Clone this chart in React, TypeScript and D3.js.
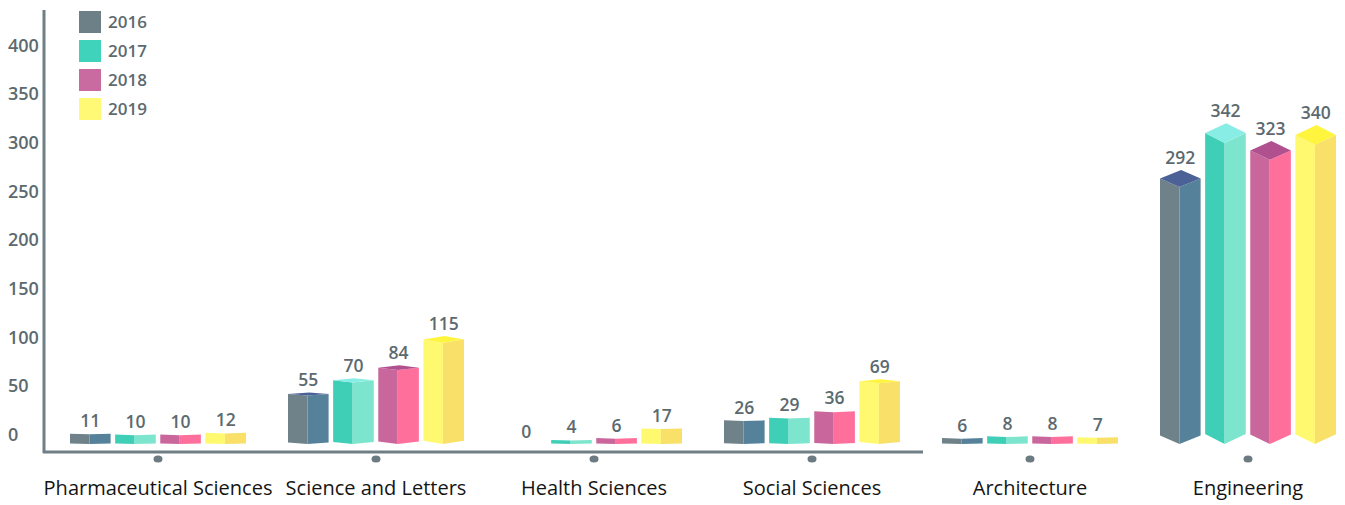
import React from "react";
import * as d3 from "d3";

// Enrolment by faculty and year
const categories = [
  "Pharmaceutical Sciences",
  "Science and Letters",
  "Health Sciences",
  "Social Sciences",
  "Architecture",
  "Engineering",
];
const years = ["2016", "2017", "2018", "2019"];
const values2016 = [11, 55, 0, 26, 6, 292];
const values2017 = [10, 70, 4, 29, 8, 342];
const values2018 = [10, 84, 6, 36, 8, 323];
const values2019 = [12, 115, 17, 69, 7, 340];
const seriesValues = [values2016, values2017, values2018, values2019];
const yTicks = [0, 50, 100, 150, 200, 250, 300, 350, 400];

// Prism face colours per year: left face, right face, top cap, legend swatch
const palette = [
  { left: "#6f8189", right: "#55829a", top: "#4c6196", swatch: "#6e8087" },
  { left: "#3fcfb7", right: "#7de5cd", top: "#88ede5", swatch: "#40d3bb" },
  { left: "#c9679d", right: "#fe6f9c", top: "#b0508f", swatch: "#c96aa0" },
  { left: "#fff96f", right: "#f9e068", top: "#fff43e", swatch: "#fff975" },
];

const W = 1345;
const H = 505;
const FONT = "'Open Sans', 'DejaVu Sans', sans-serif";

export default function App() {
  const x = d3.scaleBand<string>().domain(categories).range([49, 1357]).padding(0);
  const groupWidth = 176;
  const inner = d3.scaleBand<string>().domain(years).range([0, groupWidth]).paddingInner(0.1);
  // bar heights
  const y = d3.scaleLinear().domain([0, 400]).range([444, 92]);
  // axis tick label positions
  const tickY = d3.scaleLinear().domain([0, 400]).range([436, 47]);

  const axisColor = "#6f7f86";
  const textGrey = "#5c6a70";

  const bars: React.ReactNode[] = [];
  categories.forEach((cat, ci) => {
    const gx = (x(cat) as number) + (x.step() - groupWidth) / 2;
    years.forEach((yr, si) => {
      const v = seriesValues[si][ci];
      const col = palette[si];
      const x0 = gx + (inner(yr) as number);
      const w = inner.bandwidth();
      const x1 = x0 + w;
      const xm = x0 + w * 0.48;
      const yb = y(0);
      const yt = y(v);
      const h = yb - yt;
      const c = h > 0 ? Math.max(0.6, Math.min(10, h * 0.033)) : 0;
      const backX = x0 + x1 - xm;
      const key = `${ci}-${si}`;
      if (h > 0) {
        bars.push(
          <g key={key}>
            <polygon
              points={`${x0},${yt - c} ${xm},${yt} ${xm},${yb} ${x0},${yb - c}`}
              fill={col.left}
            />
            <polygon
              points={`${xm},${yt} ${x1},${yt - c} ${x1},${yb - c} ${xm},${yb}`}
              fill={col.right}
            />
            {c > 1.5 && (
              <polygon
                points={`${x0},${yt - c} ${xm},${yt} ${x1},${yt - c} ${backX},${yt - 2 * c}`}
                fill={col.top}
              />
            )}
          </g>
        );
      }
      bars.push(
        <text
          key={key + "-t"}
          x={(x0 + x1) / 2}
          y={yt - 2 * c - 6}
          textAnchor="middle"
          fontFamily={FONT}
          fontSize={17.5}
          fontWeight={600}
          fill={textGrey}
        >
          {v}
        </text>
      );
    });
  });

  return (
    <div style={{ position: "absolute", left: 0, top: 0 }}>
      <svg width={W} height={H} style={{ display: "block", background: "#ffffff" }}>
        {/* y tick labels */}
        {yTicks.map((t) => (
          <text
            key={t}
            x={8}
            y={tickY(t)}
            dominantBaseline="middle"
            fontFamily={FONT}
            fontSize={18}
            fontWeight={600}
            fill={textGrey}
          >
            {t}
          </text>
        ))}

        {/* axes */}
        <line x1={44} y1={10} x2={44} y2={453} stroke={axisColor} strokeWidth={3} />
        <line x1={43} y1={452} x2={923} y2={452} stroke={axisColor} strokeWidth={3} />

        {bars}

        {/* category markers and labels */}
        {categories.map((cat) => {
          const cx = (x(cat) as number) + x.bandwidth() / 2;
          return (
            <g key={cat}>
              <ellipse cx={cx} cy={459} rx={4.5} ry={3.6} fill="#6b7b81" />
              <text
                x={cx}
                y={490}
                textAnchor="middle"
                dominantBaseline="middle"
                fontFamily={FONT}
                fontSize={20}
                fill="#151515"
              >
                {cat}
              </text>
            </g>
          );
        })}

        {/* legend */}
        {years.map((yr, i) => (
          <g key={yr} transform={`translate(79, ${11 + i * 29})`}>
            <rect width={22} height={22} fill={palette[i].swatch} />
            <text
              x={29}
              y={12}
              dominantBaseline="middle"
              fontFamily={FONT}
              fontSize={17}
              fontWeight={600}
              fill="#5d6a6f"
            >
              {yr}
            </text>
          </g>
        ))}
      </svg>
    </div>
  );
}
